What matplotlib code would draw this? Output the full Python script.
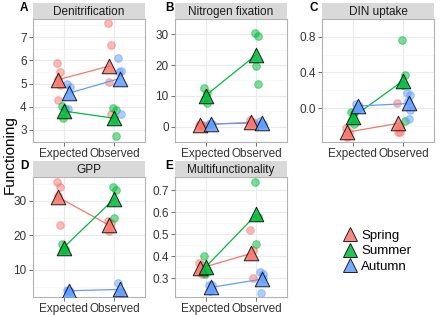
import matplotlib
matplotlib.use("Agg")
import matplotlib.pyplot as plt
from matplotlib.lines import Line2D
import numpy as np

plt.rcParams["font.family"] = ["Liberation Sans", "DejaVu Sans"]

seasons = ["Spring", "Summer", "Autumn"]
season_colors = ["#F8766D", "#00BA38", "#619CFF"]
x_labels = ["Expected", "Observed"]
panel_titles = ["Denitrification", "Nitrogen fixation", "DIN uptake", "GPP", "Multifunctionality"]
panel_letters = ["A", "B", "C", "D", "E"]

# replicate values per season: (expected, observed)
denitrification = {
    "Spring": ([5.9, 5.5, 5.2, 4.95, 4.3], [7.6, 6.65, 5.05, 3.7]),
    "Summer": ([4.05, 3.9, 3.5], [3.95, 3.85, 3.45, 2.75]),
    "Autumn": ([5.0, 4.85, 3.9], [6.1, 5.55, 5.5, 3.7]),
}
nitrogen_fixation = {
    "Spring": ([0.3, 0.6, 0.8, 0.5], [2.2, 1.5, 0.8, 1.2]),
    "Summer": ([12.5, 11.0, 9.0, 7.8], [30.5, 29.5, 19.7, 14.0]),
    "Autumn": ([0.9, 0.7, 1.0], [1.9, 1.0, 0.8]),
}
din_uptake = {
    "Spring": ([-0.22, -0.27, -0.32], [0.06, -0.2, -0.27, -0.27]),
    "Summer": ([-0.04, -0.06, -0.13, -0.18], [0.76, 0.37, 0.26, -0.15]),
    "Autumn": ([0.05, 0.02, 0.0], [0.17, 0.15, 0.08, -0.02, -0.12]),
}
gpp = {
    "Spring": ([35.5, 34.0, 31.5, 23.0], [24.0, 23.5, 21.1]),
    "Summer": ([17.5, 16.0, 15.8], [34.0, 33.0, 24.9]),
    "Autumn": ([4.0, 3.8, 3.9], [6.2, 3.5, 3.2]),
}
multifunctionality = {
    "Spring": ([0.37, 0.36, 0.33, 0.32], [0.52, 0.43, 0.40, 0.30]),
    "Summer": ([0.40, 0.33, 0.32], [0.735, 0.58, 0.455]),
    "Autumn": ([0.27, 0.25, 0.24, 0.27], [0.33, 0.32, 0.23, 0.30]),
}
panel_data = [denitrification, nitrogen_fixation, din_uptake, gpp, multifunctionality]
y_ticks = [[3, 4, 5, 6, 7], [0, 10, 20, 30], [0.0, 0.4, 0.8], [10, 20, 30], [0.3, 0.4, 0.5, 0.6, 0.7]]
y_ticklabels = [["3", "4", "5", "6", "7"], ["0", "10", "20", "30"], ["0.0", "0.4", "0.8"],
                ["10", "20", "30"], ["0.3", "0.4", "0.5", "0.6", "0.7"]]
y_limits = [(2.48, 7.78), (-1.64, 31.9), (-0.38, 0.817), (2.1, 36.9), (0.214, 0.76)]

W, H = 440, 315
fig = plt.figure(figsize=(W / 100, H / 100), dpi=100)

# panel boxes in pixels: left, top, right, bottom (plot area, strip sits above)
boxes = [(33, 19, 145, 142), (175, 19, 287, 142), (322, 19, 434, 142),
         (33, 177, 145, 297), (175, 177, 287, 297)]
letter_x = [20, 165, 309, 20, 165]
strip_h = 16
dodge = {"Spring": -0.1, "Summer": 0.0, "Autumn": 0.1}
jitter = [-0.03, 0.025, -0.01, 0.035, 0.0]

for i, (l, t, r, b) in enumerate(boxes):
    ax = fig.add_axes([l / W, 1 - b / H, (r - l) / W, (b - t) / H])
    ax.set_xlim(0.4, 2.6)
    ax.set_ylim(*y_limits[i])
    ax.set_xticks([1, 2])
    ax.set_xticklabels(x_labels)
    ax.set_yticks(y_ticks[i])
    ax.set_yticklabels(y_ticklabels[i])
    yt = y_ticks[i]
    step = yt[1] - yt[0]
    minors = np.arange(yt[0] - step / 2, yt[-1] + step, step)
    ax.set_yticks(minors, minor=True)
    ax.tick_params(which="minor", length=0)
    ax.grid(True, which="major", color="#EBEBEB", lw=0.8)
    ax.grid(True, which="minor", color="#F4F4F4", lw=0.5)
    ax.set_axisbelow(True)
    for sp in ax.spines.values():
        sp.set_color("#B3B3B3")
        sp.set_linewidth(0.8)
    ax.tick_params(which="major", length=3, width=0.6, color="#555555",
                   labelsize=8.5, labelcolor="#333333", pad=1.5)

    data = panel_data[i]
    for s, c in zip(seasons, season_colors):
        exp_vals, obs_vals = data[s]
        for xi, vals in zip([1, 2], [exp_vals, obs_vals]):
            xs = [xi + dodge[s] + jitter[k % len(jitter)] for k in range(len(vals))]
            ax.scatter(xs, vals, s=30, facecolor=c, edgecolor=c, alpha=0.5,
                       linewidths=0.8, zorder=2)
        means = [np.mean(exp_vals), np.mean(obs_vals)]
        mx = [1 + dodge[s], 2 + dodge[s]]
        ax.plot(mx, means, color=c, lw=0.9, zorder=3)
        ax.scatter(mx, means, marker="^", s=110, facecolor=c, edgecolor="black",
                   alpha=0.85, linewidths=0.7, zorder=4)

    sax = fig.add_axes([l / W, 1 - t / H, (r - l) / W, strip_h / H])
    sax.set_facecolor("#D9D9D9")
    sax.set_xticks([])
    sax.set_yticks([])
    for sp in sax.spines.values():
        sp.set_visible(False)
    sax.text(0.5, 0.45, panel_titles[i], ha="center", va="center", fontsize=8.5,
             color="#1A1A1A", transform=sax.transAxes)
    fig.text(letter_x[i] / W, 1 - (t - 11) / H, panel_letters[i], fontsize=8.5,
             fontweight="bold", ha="left", va="center")

fig.text(10 / W, 1 - 155 / H, "Functioning", rotation=90, ha="center", va="center",
         fontsize=11)

handles = [Line2D([0], [0], marker="^", linestyle="none", markersize=10,
                  markerfacecolor=c, markeredgecolor="black", alpha=0.85,
                  markeredgewidth=0.7) for c in season_colors]
fig.legend(handles, seasons, loc="center left", bbox_to_anchor=(335 / W, 1 - 251 / H),
           frameon=False, fontsize=9.5, handlelength=1.2, handletextpad=0.3,
           labelspacing=0.25, borderpad=0)

fig.savefig("out.png", dpi=100)
